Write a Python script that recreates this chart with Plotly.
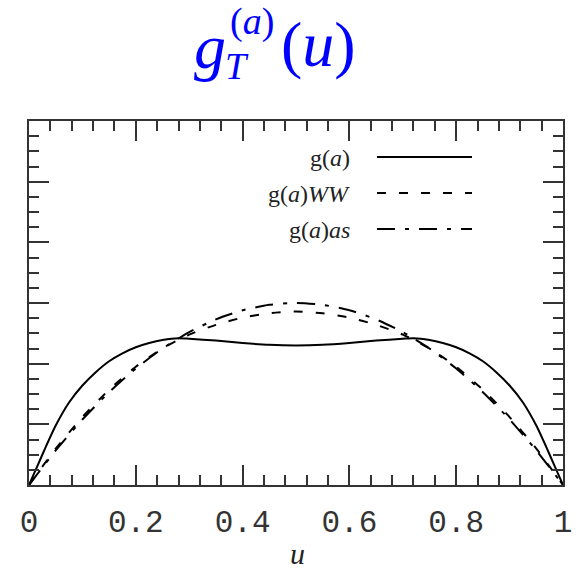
import plotly.graph_objects as go

# Momentum fraction grid and twist-3 distribution amplitudes
u_full = [0, 0.01, 0.02, 0.03, 0.05, 0.075, 0.1, 0.125, 0.15, 0.175, 0.2, 0.225, 0.25,
          0.28, 0.3, 0.35, 0.4, 0.45, 0.5, 0.55, 0.6, 0.65, 0.7, 0.72, 0.75, 0.775,
          0.8, 0.825, 0.85, 0.875, 0.9, 0.925, 0.95, 0.97, 0.98, 0.99, 1.0]
g_a = [0, 0.10, 0.20, 0.30, 0.49, 0.68, 0.82, 0.93, 1.02, 1.085, 1.135, 1.17, 1.195,
       1.21, 1.205, 1.19, 1.17, 1.155, 1.15, 1.155, 1.17, 1.19, 1.205, 1.21, 1.195, 1.17,
       1.135, 1.085, 1.02, 0.93, 0.82, 0.68, 0.49, 0.30, 0.20, 0.10, 0]

u_sym = [0, 0.05, 0.1, 0.15, 0.2, 0.25, 0.3, 0.35, 0.4, 0.45, 0.5,
         0.55, 0.6, 0.65, 0.7, 0.75, 0.8, 0.85, 0.9, 0.95, 1.0]
g_ww = [0, 0.30, 0.56, 0.785, 0.975, 1.125, 1.24, 1.32, 1.38, 1.415, 1.43,
        1.415, 1.38, 1.32, 1.24, 1.125, 0.975, 0.785, 0.56, 0.30, 0]
g_as = [0, 0.285, 0.54, 0.765, 0.96, 1.125, 1.26, 1.365, 1.44, 1.485, 1.5,
        1.485, 1.44, 1.365, 1.26, 1.125, 0.96, 0.765, 0.54, 0.285, 0]

x_ticks = [0, 0.2, 0.4, 0.6, 0.8, 1]
x_tick_text = ["0", "0.2", "0.4", "0.6", "0.8", "1"]

W, H = 584, 573
ML, MR, MT, MB = 29, 21, 121, 88
PW, PH = W - ML - MR, H - MT - MB


def px(x):
    return (x - ML) / PW


def py(y):
    return (H - MB - y) / PH


DASH = "9px,13px"
DASHDOT = "18px,10px,4px,10px"
INK = "#222222"
SERIF = "Liberation Serif, Times New Roman, serif"

fig = go.Figure()
fig.add_trace(go.Scatter(x=u_full, y=g_a, mode="lines",
                         line=dict(color="black", width=2, shape="spline", smoothing=0.6)))
fig.add_trace(go.Scatter(x=u_sym, y=g_ww, mode="lines",
                         line=dict(color="black", width=2, dash=DASH, shape="spline", smoothing=0.6)))
fig.add_trace(go.Scatter(x=u_sym, y=g_as, mode="lines",
                         line=dict(color="black", width=2, dash=DASHDOT, shape="spline", smoothing=0.6)))

axis_common = dict(showline=True, linecolor="#333333", linewidth=1.5, mirror="ticks",
                   showgrid=False, zeroline=False, ticks="inside", tickcolor="#333333",
                   tickwidth=1.5)

fig.update_xaxes(range=[0, 1], tickvals=x_ticks, ticktext=x_tick_text, ticklen=20,
                 tickfont=dict(family="Liberation Mono, Courier New, monospace", size=31, color="#333333"),
                 ticklabelstandoff=8,
                 minor=dict(ticks="inside", ticklen=10, dtick=0.04, tick0=0,
                            tickcolor="#333333", tickwidth=1.5),
                 **axis_common)
fig.update_yaxes(range=[0, 3], dtick=0.5, tick0=0, ticklen=20, showticklabels=False,
                 minor=dict(ticks="inside", ticklen=10, dtick=0.125, tick0=0,
                            tickcolor="#333333", tickwidth=1.5),
                 **axis_common)

annotations = []
# Title pieces: g, subscript T, superscript (a), (u)
BLUE = "#0000ff"
annotations.append(dict(x=px(210), y=py(46), text="<i>g</i>", font=dict(family=SERIF, size=64, color=BLUE)))
annotations.append(dict(x=px(237), y=py(66), text="<i>T</i>", font=dict(family=SERIF, size=38, color=BLUE)))
annotations.append(dict(x=px(252), y=py(21), text="(<i>a</i>)", font=dict(family=SERIF, size=38, color=BLUE)))
annotations.append(dict(x=px(318), y=py(44), text="(<i>u</i>)", font=dict(family=SERIF, size=64, color=BLUE)))

# Axis label
annotations.append(dict(x=px(297), y=py(553), text="<i>u</i>", font=dict(family=SERIF, size=30, color=INK)))

# Legend labels
legend_rows = [("g(<i>a</i>)", 158, "solid"),
               ("g(<i>a</i>)<i>WW</i>", 194, DASH),
               ("g(<i>a</i>)<i>as</i>", 230, DASHDOT)]
shapes = []
for text, yrow, dash in legend_rows:
    annotations.append(dict(x=px(352), y=py(yrow), text=text, xanchor="right",
                            font=dict(family=SERIF, size=24, color=INK)))
    shapes.append(dict(type="line", xref="paper", yref="paper", x0=px(377), x1=px(472),
                       y0=py(yrow - 1), y1=py(yrow - 1), line=dict(color="black", width=2, dash=dash)))

for a in annotations:
    a.setdefault("xanchor", "center")
    a.update(xref="paper", yref="paper", yanchor="middle", showarrow=False)

fig.update_layout(width=W, height=H, margin=dict(l=ML, r=MR, t=MT, b=MB),
                  plot_bgcolor="white", paper_bgcolor="white", showlegend=False,
                  annotations=annotations, shapes=shapes)

fig.write_html("out.html")
